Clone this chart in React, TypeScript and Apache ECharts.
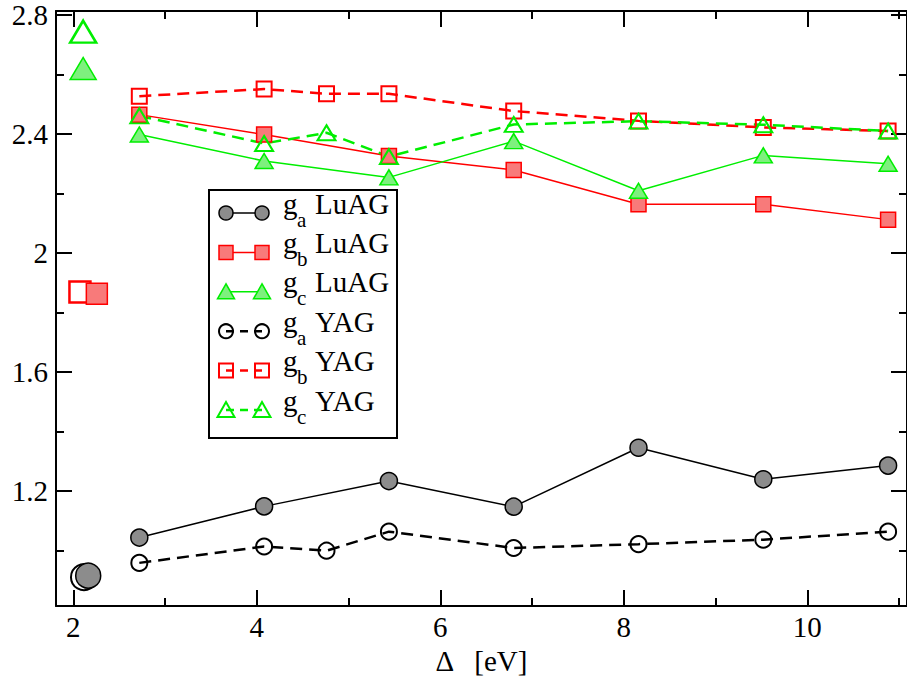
import { useEffect, useRef } from 'react';
import * as echarts from 'echarts';

// ---- data ----
const xLuAG = [2.72, 4.08, 5.44, 6.8, 8.16, 9.52, 10.88];
const xYAG = [2.72, 4.08, 4.76, 5.44, 6.8, 8.16, 9.52, 10.88];
const gaLuAG = [1.043, 1.148, 1.233, 1.147, 1.345, 1.239, 1.285];
const gbLuAG = [2.465, 2.398, 2.326, 2.279, 2.164, 2.164, 2.112];
const gcLuAG = [2.398, 2.309, 2.254, 2.376, 2.209, 2.328, 2.3];
const gaYAG = [0.958, 1.013, 0.999, 1.063, 1.008, 1.021, 1.036, 1.063];
const gbYAG = [2.527, 2.551, 2.535, 2.535, 2.477, 2.444, 2.422, 2.41];
const gcYAG = [2.461, 2.368, 2.404, 2.324, 2.432, 2.443, 2.431, 2.41];

// isolated reference points near Δ ≈ 2.1 : [x, y]
const refGaLuAG = [2.163, 0.915];
const refGaYAG = [2.117, 0.91];
const refGbLuAG = [2.257, 1.863];
const refGbYAG = [2.073, 1.869];
const refGcLuAG = [2.108, 2.62];
const refGcYAG = [2.108, 2.744];

const xTickLabels = ['2', '4', '6', '8', '10'];
const yTickLabels = ['1.2', '1.6', '2', '2.4', '2.8'];
const xTitle = 'Δ   [eV]';

const X_MIN = 1.812;
const X_MAX = 11.086;
const Y_MIN = 0.8127;
const Y_MAX = 2.8134;

const FONT = "'Liberation Serif', 'Times New Roman', Times, serif";
const RED = '#ff0000';
const GREEN = '#00ee00';
const BLACK = '#000000';
const GREY_FILL = '#8c8c8c';
const RED_FILL = '#f87a7a';
const GREEN_FILL = '#7ef07e';
const NONE = 'rgba(0,0,0,0)';

const fmt = (labels: string[]) => (v: number) => {
  const s = String(Number(v.toFixed(4)));
  return labels.includes(s) ? s : '';
};

function xAxisCfg(position: 'bottom' | 'top', major: boolean, withLabel: boolean) {
  const step = major ? 2 : 1;
  return {
    type: 'value',
    position,
    min: X_MIN,
    max: X_MAX,
    minInterval: step,
    maxInterval: step,
    splitNumber: major ? 5 : 9,
    axisLine: { show: major, onZero: false, lineStyle: { color: BLACK, width: 2 } },
    axisTick: { show: true, inside: true, length: major ? 16 : 8, lineStyle: { color: BLACK, width: 2 } },
    axisLabel: {
      show: withLabel,
      showMinLabel: false,
      showMaxLabel: false,
      margin: 6,
      color: BLACK,
      fontFamily: FONT,
      fontSize: 29,
      formatter: fmt(xTickLabels),
    },
    splitLine: { show: false },
    ...(withLabel
      ? {
          name: xTitle,
          nameLocation: 'middle',
          nameGap: 38,
          nameTextStyle: { color: BLACK, fontFamily: FONT, fontSize: 29 },
        }
      : {}),
  };
}

function yAxisCfg(position: 'left' | 'right', major: boolean, withLabel: boolean) {
  const step = major ? 0.4 : 0.2;
  return {
    type: 'value',
    position,
    min: Y_MIN,
    max: Y_MAX,
    minInterval: step,
    maxInterval: step,
    splitNumber: major ? 5 : 10,
    axisLine: { show: major, onZero: false, lineStyle: { color: BLACK, width: 2 } },
    axisTick: { show: true, inside: true, length: major ? 16 : 8, lineStyle: { color: BLACK, width: 2 } },
    axisLabel: {
      show: withLabel,
      showMinLabel: false,
      showMaxLabel: false,
      margin: 8,
      color: BLACK,
      fontFamily: FONT,
      fontSize: 29,
      formatter: fmt(yTickLabels),
    },
    splitLine: { show: false },
  };
}

function lineSeries(
  name: string,
  xs: number[],
  ys: number[],
  color: string,
  fill: string,
  symbol: string,
  size: number | number[],
  dashed: boolean
) {
  return {
    type: 'line',
    name,
    data: xs.map((x, i) => [x, ys[i]]),
    symbol,
    symbolSize: size,
    showAllSymbol: true,
    lineStyle: { color, width: dashed ? 2.5 : 1.5, type: dashed ? [12, 7] : 'solid' },
    itemStyle: { color: fill, borderColor: color, borderWidth: dashed ? 2 : 1.5 },
    xAxisIndex: 0,
    yAxisIndex: 0,
  };
}

function pointSeries(pt: number[], color: string, fill: string, symbol: string, size: number | number[], bw: number) {
  return {
    type: 'scatter',
    data: [pt],
    symbol,
    symbolSize: size,
    itemStyle: { color: fill, borderColor: color, borderWidth: bw, opacity: 1 },
    xAxisIndex: 0,
    yAxisIndex: 0,
  };
}

const legendRows = [
  { sub: 'a', label: 'LuAG', color: BLACK, fill: GREY_FILL, sym: 'circle', dashed: false },
  { sub: 'b', label: 'LuAG', color: RED, fill: RED_FILL, sym: 'rect', dashed: false },
  { sub: 'c', label: 'LuAG', color: GREEN, fill: GREEN_FILL, sym: 'triangle', dashed: false },
  { sub: 'a', label: 'YAG', color: BLACK, fill: NONE, sym: 'circle', dashed: true },
  { sub: 'b', label: 'YAG', color: RED, fill: NONE, sym: 'rect', dashed: true },
  { sub: 'c', label: 'YAG', color: GREEN, fill: NONE, sym: 'triangle', dashed: true },
];

function legendSymbol(sym: string, cx: number, cy: number, color: string, fill: string, bw: number) {
  const style = { fill, stroke: color, lineWidth: bw };
  if (sym === 'circle') return { type: 'circle', shape: { cx, cy, r: 7 }, style };
  if (sym === 'rect') return { type: 'rect', shape: { x: cx - 7, y: cy - 7, width: 14, height: 14 }, style };
  return {
    type: 'polygon',
    shape: { points: [[cx, cy - 8], [cx - 8.5, cy + 7], [cx + 8.5, cy + 7]] },
    style,
  };
}

function buildLegend() {
  const children: any[] = [
    {
      type: 'rect',
      shape: { x: 209, y: 190, width: 188, height: 248 },
      style: { fill: '#ffffff', stroke: BLACK, lineWidth: 2 },
    },
  ];
  legendRows.forEach((r, i) => {
    const cy = 213 + i * 39.4;
    const bw = r.dashed ? 2 : 1.5;
    children.push({
      type: 'line',
      shape: { x1: 226, y1: cy, x2: 262, y2: cy },
      style: { stroke: r.color, lineWidth: r.dashed ? 2.5 : 1.5, lineDash: r.dashed ? [8, 6] : null },
    });
    children.push(legendSymbol(r.sym, 226, cy, r.color, r.fill, bw));
    children.push(legendSymbol(r.sym, 262, cy, r.color, r.fill, bw));
    children.push({
      type: 'text',
      style: { text: 'g', x: 283, y: cy + 5, fontFamily: FONT, fontSize: 29, fill: BLACK, verticalAlign: 'bottom' },
    });
    children.push({
      type: 'text',
      style: { text: r.sub, x: 297, y: cy + 17, fontFamily: FONT, fontSize: 21, fill: BLACK, verticalAlign: 'bottom' },
    });
    children.push({
      type: 'text',
      style: { text: r.label, x: 315, y: cy + 5, fontFamily: FONT, fontSize: 29, fill: BLACK, verticalAlign: 'bottom' },
    });
  });
  return { type: 'group', z: 100, children };
}

export default function App() {
  const ref = useRef<HTMLDivElement>(null);
  useEffect(() => {
    if (!ref.current) return;
    const chart = echarts.init(ref.current, null, { renderer: 'svg' });
    chart.setOption({
      animation: false,
      backgroundColor: '#ffffff',
      textStyle: { fontFamily: FONT },
      grid: { left: 56, top: 11, width: 854, height: 598, containLabel: false },
      xAxis: [
        xAxisCfg('bottom', true, true),
        xAxisCfg('bottom', false, false),
        xAxisCfg('top', true, false),
        xAxisCfg('top', false, false),
      ],
      yAxis: [
        yAxisCfg('left', true, true),
        yAxisCfg('left', false, false),
        yAxisCfg('right', true, false),
        yAxisCfg('right', false, false),
      ],
      series: [
        lineSeries('ga LuAG', xLuAG, gaLuAG, BLACK, GREY_FILL, 'circle', 17, false),
        lineSeries('gb LuAG', xLuAG, gbLuAG, RED, RED_FILL, 'rect', 15, false),
        lineSeries('gc LuAG', xLuAG, gcLuAG, GREEN, GREEN_FILL, 'triangle', [18, 15], false),
        lineSeries('ga YAG', xYAG, gaYAG, BLACK, NONE, 'circle', 16, true),
        lineSeries('gb YAG', xYAG, gbYAG, RED, NONE, 'rect', 15, true),
        lineSeries('gc YAG', xYAG, gcYAG, GREEN, NONE, 'triangle', [18, 15], true),
        pointSeries(refGaYAG, BLACK, NONE, 'circle', 26, 2),
        pointSeries(refGaLuAG, BLACK, GREY_FILL, 'circle', 25, 1.5),
        pointSeries(refGbYAG, RED, NONE, 'rect', 21, 2.5),
        pointSeries(refGbLuAG, RED, RED_FILL, 'rect', 21, 1.5),
        pointSeries(refGcLuAG, GREEN, GREEN_FILL, 'triangle', [26, 22], 1.5),
        pointSeries(refGcYAG, GREEN, NONE, 'triangle', [26, 22], 2.5),
      ],
      graphic: [buildLegend()],
    });
    return () => chart.dispose();
  }, []);
  return (
    <div
      ref={ref}
      style={{ position: 'fixed', left: 0, top: 0, width: 907, height: 680, background: '#fff' }}
    />
  );
}
